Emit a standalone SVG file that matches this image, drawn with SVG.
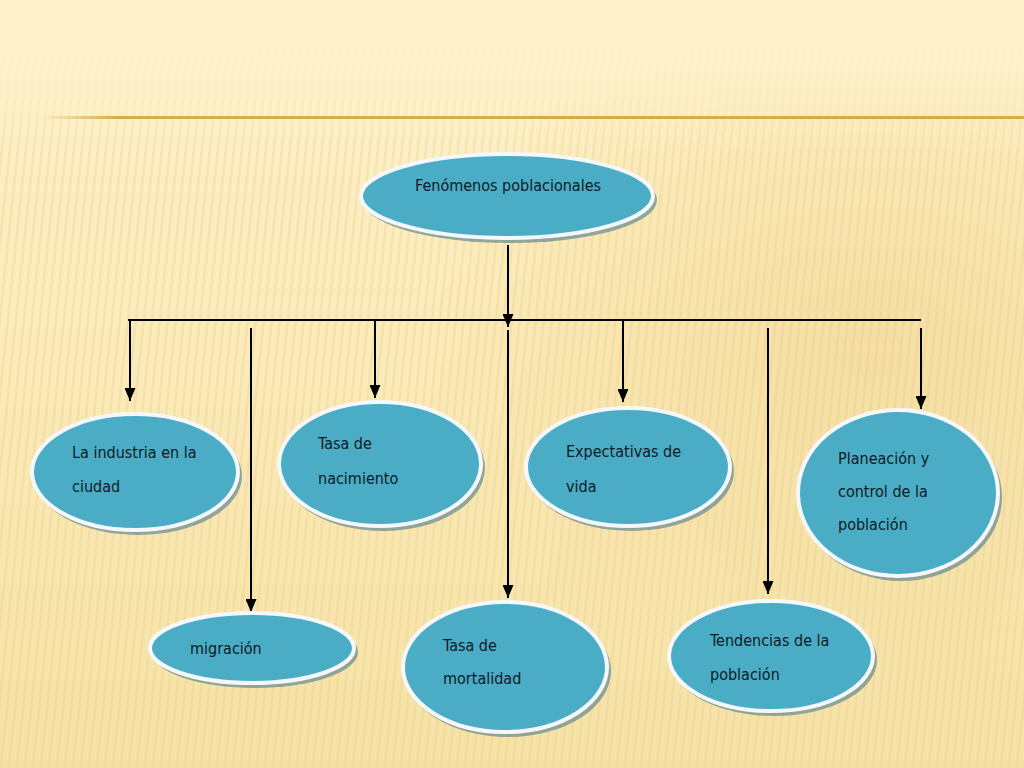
<svg xmlns="http://www.w3.org/2000/svg" width="1024" height="768" viewBox="0 0 1024 768">
<defs>
<linearGradient id="bg" x1="0" y1="0" x2="0" y2="1">
<stop offset="0" stop-color="#FEF2CB"/>
<stop offset="0.35" stop-color="#FCEDBF"/>
<stop offset="1" stop-color="#F6E2A6"/>
</linearGradient>
<radialGradient id="glow" cx="0.85" cy="0.45" r="0.45">
<stop offset="0" stop-color="#F2D998" stop-opacity="0.7"/>
<stop offset="1" stop-color="#F2D998" stop-opacity="0"/>
</radialGradient>
<pattern id="stripes" width="8" height="768" patternUnits="userSpaceOnUse">
<rect x="0" y="0" width="3" height="768" fill="#E6C97F" opacity="0.25"/>
</pattern>
<linearGradient id="fadeTop" x1="0" y1="0" x2="0" y2="1">
<stop offset="0" stop-color="#FEF2CB" stop-opacity="1"/>
<stop offset="0.08" stop-color="#FEF2CB" stop-opacity="0.9"/>
<stop offset="0.2" stop-color="#FEF2CB" stop-opacity="0"/>
<stop offset="1" stop-color="#FEF2CB" stop-opacity="0"/>
</linearGradient>
<linearGradient id="rule" x1="0" y1="0" x2="1" y2="0">
<stop offset="0" stop-color="#D9A94C" stop-opacity="0"/>
<stop offset="0.08" stop-color="#D9A94C" stop-opacity="1"/>
<stop offset="1" stop-color="#D9A94C" stop-opacity="1"/>
</linearGradient>
<marker id="arr" markerWidth="13" markerHeight="11" refX="13" refY="5.5" orient="auto" markerUnits="userSpaceOnUse" viewBox="0 0 13 11">
<path d="M0,0 L13,5.5 L0,11 Z" fill="#000"/>
</marker>
</defs>
<style>
.sh{fill:#6F8F90;opacity:0.75}
.el{fill:#4BACC6;stroke:#F4F8FA;stroke-width:4}
.t{font-family:"Liberation Sans Narrow","DejaVu Sans Condensed","Liberation Sans",sans-serif;font-size:16px;fill:#0E1A24}
.c{stroke:#000;stroke-width:2;fill:none}
</style>
<rect width="1024" height="768" fill="url(#bg)"/>
<rect width="1024" height="768" fill="url(#glow)"/>
<g transform="skewX(-6)"><rect x="0" y="0" width="1200" height="768" fill="url(#stripes)"/></g>
<rect width="1024" height="768" fill="url(#fadeTop)"/>
<rect x="40" y="116" width="984" height="3" fill="url(#rule)"/>

<g id="connectors">
<line class="c" x1="508" y1="245" x2="508" y2="327" marker-end="url(#arr)"/>
<line class="c" x1="128" y1="320" x2="921" y2="320"/>
<line class="c" x1="130" y1="320" x2="130" y2="401" marker-end="url(#arr)"/>
<line class="c" x1="375" y1="320" x2="375" y2="398" marker-end="url(#arr)"/>
<line class="c" x1="623" y1="320" x2="623" y2="402" marker-end="url(#arr)"/>
<line class="c" x1="921" y1="328" x2="921" y2="409" marker-end="url(#arr)"/>
<line class="c" x1="251" y1="328" x2="251" y2="612" marker-end="url(#arr)"/>
<line class="c" x1="508" y1="330" x2="508" y2="598" marker-end="url(#arr)"/>
<line class="c" x1="768" y1="328" x2="768" y2="594" marker-end="url(#arr)"/>
</g>

<g id="n-fenomenos">
<ellipse class="sh" cx="510" cy="200" rx="147" ry="43"/>
<ellipse class="el" cx="507" cy="196" rx="146" ry="42"/>
<text class="t" x="415" y="191">Fenómenos poblacionales</text>
</g>
<g id="n-industria">
<ellipse class="sh" cx="138" cy="476" rx="104" ry="59"/>
<ellipse class="el" cx="135" cy="472" rx="103" ry="58"/>
<text class="t" x="72" y="458">La industria en la</text>
<text class="t" x="72" y="492">ciudad</text>
</g>
<g id="n-nacimiento">
<ellipse class="sh" cx="383" cy="468" rx="102" ry="63"/>
<ellipse class="el" cx="380" cy="464" rx="101" ry="62"/>
<text class="t" x="318" y="449">Tasa de</text>
<text class="t" x="318" y="484">nacimiento</text>
</g>
<g id="n-expectativas">
<ellipse class="sh" cx="631" cy="471" rx="103" ry="60"/>
<ellipse class="el" cx="628" cy="467" rx="102" ry="59"/>
<text class="t" x="566" y="457">Expectativas de</text>
<text class="t" x="566" y="492">vida</text>
</g>
<g id="n-planeacion">
<ellipse class="sh" cx="901" cy="497" rx="101" ry="84"/>
<ellipse class="el" cx="898" cy="493" rx="100" ry="83"/>
<text class="t" x="838" y="464">Planeación y</text>
<text class="t" x="838" y="497">control de la</text>
<text class="t" x="838" y="530">población</text>
</g>
<g id="n-migracion">
<ellipse class="sh" cx="255" cy="652" rx="103" ry="36"/>
<ellipse class="el" cx="252" cy="648" rx="102" ry="35"/>
<text class="t" x="190" y="654">migración</text>
</g>
<g id="n-mortalidad">
<ellipse class="sh" cx="508" cy="671" rx="103" ry="66"/>
<ellipse class="el" cx="505" cy="667" rx="102" ry="65"/>
<text class="t" x="443" y="651">Tasa de</text>
<text class="t" x="443" y="684">mortalidad</text>
</g>
<g id="n-tendencias">
<ellipse class="sh" cx="774" cy="660" rx="103" ry="56"/>
<ellipse class="el" cx="771" cy="656" rx="102" ry="55"/>
<text class="t" x="710" y="646">Tendencias de la</text>
<text class="t" x="710" y="680">población</text>
</g>
</svg>
